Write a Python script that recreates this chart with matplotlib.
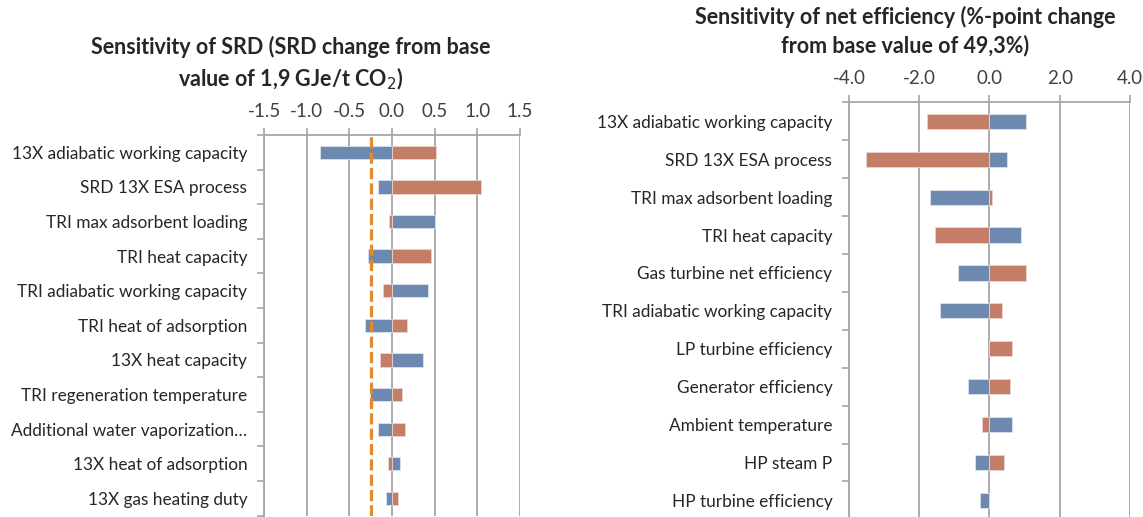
import numpy as np
import matplotlib.pyplot as plt
from matplotlib.ticker import FixedLocator

plt.rcParams.update({"font.family": ["Lato", "DejaVu Sans"],
                     "text.color": "#262626", "xtick.color": "#404040",
                     "ytick.color": "#262626"})

# left chart: SRD sensitivity (GJe/t CO2)
srd_params = ["13X adiabatic working capacity", "SRD 13X ESA process",
              "TRI max adsorbent loading", "TRI heat capacity",
              "TRI adiabatic working capacity", "TRI heat of adsorption",
              "13X heat capacity", "TRI regeneration temperature",
              "Additional water vaporization\u2026", "13X heat of adsorption",
              "13X gas heating duty"]
srd_blue = [-0.84, -0.16, 0.50, -0.28, 0.42, -0.32, 0.36, -0.26, -0.16, 0.09, -0.07]
srd_red = [0.52, 1.04, -0.03, 0.46, -0.11, 0.18, -0.14, 0.12, 0.15, -0.05, 0.07]
srd_ref = -0.25
srd_ticks = [-1.5, -1.0, -0.5, 0.0, 0.5, 1.0, 1.5]

# right chart: net efficiency sensitivity (%-point)
eff_params = ["13X adiabatic working capacity", "SRD 13X ESA process",
              "TRI max adsorbent loading", "TRI heat capacity",
              "Gas turbine net efficiency", "TRI adiabatic working capacity",
              "LP turbine efficiency", "Generator efficiency",
              "Ambient temperature", "HP steam P", "HP turbine efficiency"]
eff_blue = [1.04, 0.50, -1.70, 0.91, -0.91, -1.42, 0.0, -0.60, 0.64, -0.41, -0.28]
eff_red = [-1.77, -3.51, 0.08, -1.56, 1.05, 0.37, 0.64, 0.59, -0.22, 0.41, 0.0]
eff_ticks = [-4.0, -2.0, 0.0, 2.0, 4.0]

BLUE = "#6D89B0"
RED = "#C47E67"
GRID = "#A6A6A6"

fig = plt.figure(figsize=(11.43, 5.17), dpi=100)


def tornado(ax, params, blue, red, ticks, h):
    n = len(params)
    y = np.arange(n)
    ax.barh(y, blue, height=h, color=BLUE, edgecolor="#DCE3EE", linewidth=0.6, zorder=3)
    ax.barh(y, red, height=h, color=RED, edgecolor="#EBD3CB", linewidth=0.6, zorder=3)
    ax.set_ylim(n - 0.5, -0.5)
    ax.set_xlim(ticks[0], ticks[-1])
    ax.xaxis.tick_top()
    ax.set_xticks(ticks)
    ax.set_xticklabels([f"{t:.1f}" for t in ticks], fontsize=13.5)
    ax.tick_params(axis="x", length=5, color=GRID, width=1.2, pad=6)
    ax.yaxis.set_major_locator(FixedLocator(np.arange(n + 1) - 0.5))
    ax.yaxis.set_minor_locator(FixedLocator(y))
    ax.set_yticklabels([], minor=False)
    ax.set_yticklabels(params, minor=True, fontsize=12.4)
    ax.tick_params(axis="y", which="major", length=5, color=GRID, width=1.2)
    ax.tick_params(axis="y", which="minor", length=0, pad=12)
    ax.grid(axis="x", color=GRID, linewidth=1.3, zorder=0)
    for s in ["right", "bottom"]:
        ax.spines[s].set_visible(False)
    for s in ["left", "top"]:
        ax.spines[s].set_color(GRID)
        ax.spines[s].set_linewidth(1.3)


ax1 = fig.add_axes([0.231, 0.0025, 0.224, 0.7364])
tornado(ax1, srd_params, srd_blue, srd_red, srd_ticks, 0.385)
ax1.axvline(srd_ref, color="#E38A2C", linewidth=2.3, dashes=(3.5, 1.3), zorder=4)
fig.text(0.254, 0.93, "Sensitivity of SRD (SRD change from base\nvalue of 1,9 GJe/t CO$_2$)",
         ha="center", va="top", fontsize=15.5, fontweight="bold", linespacing=1.35)

ax2 = fig.add_axes([0.7428, -0.0045, 0.2458, 0.8065])
tornado(ax2, eff_params, eff_blue, eff_red, eff_ticks, 0.40)
fig.text(0.792, 0.988, "Sensitivity of net efficiency (%-point change\nfrom base value of 49,3%)",
         ha="center", va="top", fontsize=15.5, fontweight="bold", linespacing=1.35)

fig.savefig("out.png", dpi=100)
